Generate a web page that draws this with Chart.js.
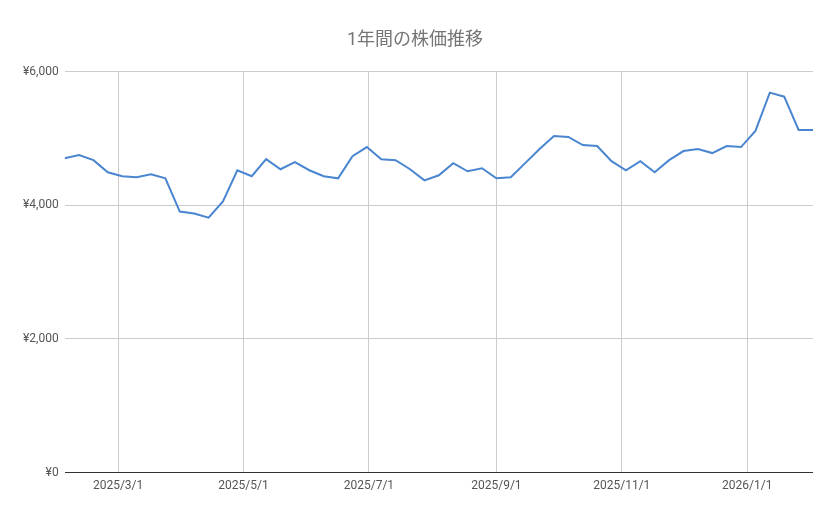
<!DOCTYPE html>
<html><head><meta charset="utf-8">
<script src="https://cdn.jsdelivr.net/npm/chart.js@4"></script>
<style>html,body{margin:0;padding:0;background:#fff}#w{width:839px;height:519px}</style>
</head><body><div id="w"><canvas id="c"></canvas></div>
<script>
const startDate = "2025-02-03";
const weekDays = [0,7,14,21,28,35,42,49,56,63,70,77,84,91,98,105,112,119,126,133,140,147,154,161,168,175,182,189,196,203,210,217,224,231,238,245,252,259,266,273,280,287,294,301,308,315,322,329,336,343,350,357,364];
const prices = [4705,4750,4675,4494,4434,4418,4464,4403,3906,3876,3815,4057,4524,4434,4690,4539,4645,4524,4434,4403,4735,4871,4690,4675,4539,4373,4449,4630,4509,4554,4403,4418,4630,4841,5037,5022,4901,4886,4660,4524,4660,4494,4675,4811,4841,4781,4886,4871,5112,5685,5625,5127,5127];
const tickDays = [26,87,148,210,271,332];
const tickLabels = ["2025/3/1","2025/5/1","2025/7/1","2025/9/1","2025/11/1","2026/1/1"];
const yTicks = [0,2000,4000,6000];
const font = "Roboto, 'Noto Sans CJK JP', sans-serif";
new Chart(document.getElementById('c'), {
  type: 'line',
  data: { datasets: [{ data: weekDays.map((d,i)=>({x:d,y:prices[i]})), borderColor:'#4a86d0', borderWidth:2, pointRadius:0, tension:0 }] },
  options: {
    responsive:true, maintainAspectRatio:false, animation:false,
    layout:{padding:{left:17,right:26,top:18,bottom:20}},
    plugins:{ legend:{display:false}, tooltip:{enabled:false},
      title:{display:true, text:'1年間の株価推移', color:'#757575', font:{family:font,size:18,weight:'normal'}, padding:{top:12,bottom:20}} },
    scales:{
      x:{ type:'linear', min:0, max:364,
        afterBuildTicks:(s)=>{ s.ticks = tickDays.map(v=>({value:v})); },
        ticks:{ callback:(v)=>tickLabels[tickDays.indexOf(v)], color:'#555', font:{family:font,size:12}, maxRotation:0, autoSkip:false, padding:6 },
        grid:{ color:'#cccccc', drawTicks:false }, border:{display:false} },
      y:{ min:0, max:6000,
        afterBuildTicks:(s)=>{ s.ticks = yTicks.map(v=>({value:v})); },
        ticks:{ callback:(v)=>'¥'+v.toLocaleString('en-US'), color:'#555', font:{family:font,size:12}, padding:6 },
        grid:{ color:(c)=>c.tick.value===0?'#333':'#cccccc', drawTicks:false }, border:{display:false} }
    }
  }
});
</script></body></html>
